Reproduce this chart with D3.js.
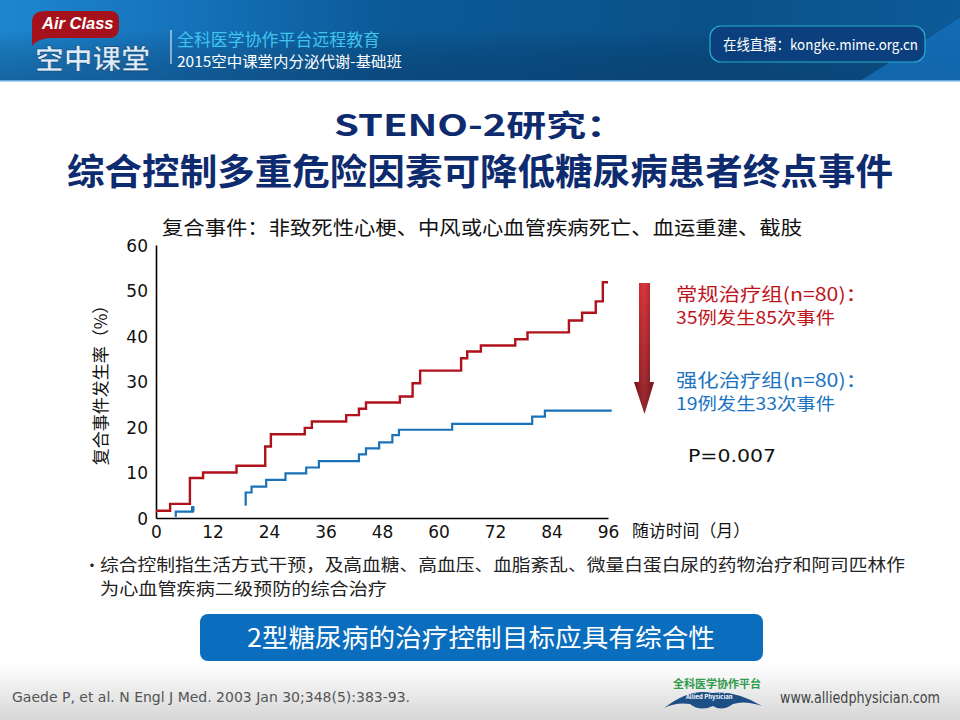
<!DOCTYPE html>
<html><head><meta charset="utf-8">
<script src="https://cdn.jsdelivr.net/npm/d3@7"></script>
<style>
html,body{margin:0;padding:0;background:#fff;}
svg{display:block;font-family:"Noto Sans CJK SC","Noto Sans",sans-serif;}
</style></head>
<body><svg id="c" width="960" height="720"></svg>
<script>
// ---------- data ----------
const yTicks = [0, 10, 20, 30, 40, 50, 60];
const xTicks = [0, 12, 24, 36, 48, 60, 72, 84, 96];
// conventional therapy: time (months) at which cumulative incidence (%) changes
const redTimes  = [0, 3.0, 7.2, 10.0, 17.1, 23.2, 24.4, 31.6, 33.1, 40.4, 43.1, 44.6, 51.8, 54.5, 56.1, 64.8, 66.1, 69.0, 76.3, 78.9, 87.7, 90.5, 93.4, 94.9, 96.0];
const redValues = [1.6, 3.1, 8.8, 10.0, 11.5, 15.7, 18.4, 19.8, 21.2, 22.6, 24.0, 25.4, 26.7, 29.6, 32.4, 35.1, 36.6, 37.9, 39.3, 40.8, 43.4, 45.1, 47.6, 51.8, 51.8];
// intensive therapy (two drawn pieces)
const blueEarlyTimes  = [4.2, 4.2, 7.8];
const blueEarlyValues = [0.2, 1.4, 2.6];
const blueTimes  = [19.05, 19.05, 20.3, 23.4, 27.5, 31.9, 34.6, 43.1, 44.6, 47.4, 50.2, 51.6, 62.9, 79.9, 82.6, 96.8];
const blueValues = [2.7, 5.6, 6.9, 8.4, 9.8, 11.1, 12.5, 14.0, 15.3, 16.6, 18.2, 19.4, 20.7, 22.3, 23.6, 23.6];

const titleLines = ["STENO-2研究：", "综合控制多重危险因素可降低糖尿病患者终点事件"];
const subTitle = "复合事件：非致死性心梗、中风或心血管疾病死亡、血运重建、截肢";
const yLabel = "复合事件发生率（%）";
const xLabel = "随访时间（月）";
const redLegend = ["常规治疗组(n=80)：", "35例发生85次事件"];
const blueLegend = ["强化治疗组(n=80)：", "19例发生33次事件"];
const pText = "P=0.007";
const bulletLines = ["综合控制指生活方式干预，及高血糖、高血压、血脂紊乱、微量白蛋白尿的药物治疗和阿司匹林作", "为心血管疾病二级预防的综合治疗"];
const buttonText = "2型糖尿病的治疗控制目标应具有综合性";
const refText = "Gaede P, et al. N Engl J Med. 2003 Jan 30;348(5):383-93.";

// ---------- drawing ----------
const svg = d3.select("#c");
const defs = svg.append("defs");

// header
const hg = defs.append("linearGradient").attr("id","hdr").attr("x1","0").attr("x2","1").attr("y1","0").attr("y2","0");
[["0%","#1d86cf"],["18%","#1674bd"],["40%","#0c5a98"],["75%","#0a5189"],["100%","#0d5a98"]].forEach(s=>hg.append("stop").attr("offset",s[0]).attr("stop-color",s[1]));
const hv = defs.append("linearGradient").attr("id","hdrv").attr("x1","0").attr("x2","0").attr("y1","0").attr("y2","1");
hv.append("stop").attr("offset","0%").attr("stop-color","#000").attr("stop-opacity",0);
hv.append("stop").attr("offset","100%").attr("stop-color","#0a2a50").attr("stop-opacity",0.35);
svg.append("rect").attr("x",0).attr("y",0).attr("width",960).attr("height",81).attr("fill","url(#hdr)");
svg.append("rect").attr("x",0).attr("y",30).attr("width",960).attr("height",51).attr("fill","url(#hdrv)");
svg.append("path").attr("d","M860,81 L960,18 L960,81 Z").attr("fill","#1672bd").attr("opacity",0.75);
svg.append("rect").attr("x",0).attr("y",80).attr("width",960).attr("height",1.5).attr("fill","#6aa9dc");

// logo
svg.append("path").attr("d","M32,42 L32,22 Q32,11 46,11 L110,11 Q119,11 119,20 L119,28 Q119,38 108,38 L52,38 Q38,38 32,46 Z").attr("fill","#a5121b");
svg.append("text").attr("x",42).attr("y",29).attr("fill","#fff").attr("font-size",16.5).attr("font-weight","bold").attr("font-style","italic")
  .attr("font-family","Liberation Sans, Arial, sans-serif").text("Air Class");
svg.append("text").attr("x",35).attr("y",69).attr("fill","#dcecfb").attr("stroke","#0b3d70").attr("stroke-width",0.6)
  .attr("font-size",27.5).attr("font-weight","bold").attr("textLength",115).attr("lengthAdjust","spacingAndGlyphs").text("空中课堂");
svg.append("line").attr("x1",171).attr("x2",171).attr("y1",30).attr("y2",64).attr("stroke","#cfe3f5").attr("stroke-width",1.2);
svg.append("text").attr("x",177).attr("y",46).attr("fill","#3fc4ee").attr("font-size",16.5).attr("textLength",203).attr("lengthAdjust","spacingAndGlyphs").text("全科医学协作平台远程教育");
svg.append("text").attr("x",177).attr("y",67).attr("fill","#ffffff").attr("font-size",15).attr("textLength",225).attr("lengthAdjust","spacingAndGlyphs").text("2015空中课堂内分泌代谢-基础班");
svg.append("rect").attr("x",710).attr("y",26).attr("width",215).attr("height",36).attr("rx",11)
  .attr("fill","#0b3f7e").attr("stroke","#27aecf").attr("stroke-width",1.2);
svg.append("text").attr("x",723).attr("y",50).attr("fill","#fff").attr("font-size",14.5).attr("textLength",195).attr("lengthAdjust","spacingAndGlyphs").text("在线直播：kongke.mime.org.cn");

// title
svg.append("text").attr("x",480).attr("y",136).attr("text-anchor","middle").attr("fill","#0d2b6e")
  .attr("font-size",30).attr("font-weight","bold").attr("textLength",292).attr("lengthAdjust","spacingAndGlyphs").text(titleLines[0]);
svg.append("text").attr("x",480).attr("y",185).attr("text-anchor","middle").attr("fill","#0d2b6e")
  .attr("font-size",36).attr("font-weight","bold").attr("textLength",826).attr("lengthAdjust","spacingAndGlyphs").text(titleLines[1]);

// chart
const x = d3.scaleLinear().domain([0, 96]).range([156, 608]);
const y = d3.scaleLinear().domain([0, 60]).range([518, 245]);

svg.append("text").attr("x",162).attr("y",235).attr("fill","#111").attr("font-size",19.5).attr("textLength",640).attr("lengthAdjust","spacingAndGlyphs").text(subTitle);

const gy = svg.append("g").attr("transform","translate(156,0)")
  .call(d3.axisLeft(y).tickValues(yTicks).tickSize(0).tickPadding(8));
const gx = svg.append("g").attr("transform","translate(0,518)")
  .call(d3.axisBottom(x).tickValues(xTicks).tickSize(0).tickPadding(8));
[gx, gy].forEach(g=>{
  g.select(".domain").attr("stroke","#000").attr("stroke-width",1.6);
  g.selectAll("text").attr("font-size",17).attr("fill","#111").attr("font-family","DejaVu Sans, Verdana, sans-serif");
});
gy.selectAll("text").attr("dy","0.36em");

svg.append("text").attr("transform","translate(107,381) rotate(-90)").attr("text-anchor","middle")
  .attr("fill","#111").attr("font-size",17).text(yLabel);
svg.append("text").attr("x",632).attr("y",537).attr("fill","#111").attr("font-size",17).attr("textLength",118).attr("lengthAdjust","spacingAndGlyphs").text(xLabel);

const line = d3.line().x(d=>x(d[0])).y(d=>y(d[1])).curve(d3.curveStepAfter);
const zip = (a,b)=>a.map((t,i)=>[t,b[i]]);
svg.append("path").attr("d",line(zip(redTimes,redValues))).attr("fill","none").attr("stroke","#b0121c").attr("stroke-width",2.4);
svg.append("path").attr("d",line(zip(blueEarlyTimes,blueEarlyValues))).attr("fill","none").attr("stroke","#1a72b8").attr("stroke-width",2.2);
svg.append("path").attr("d",line(zip(blueEarlyTimes.slice(2),blueEarlyValues.slice(2)).concat([[blueEarlyTimes[2],blueEarlyValues[1]]])))
  .attr("fill","none").attr("stroke","#1a72b8").attr("stroke-width",3.5);
svg.append("path").attr("d",line(zip(blueTimes,blueValues))).attr("fill","none").attr("stroke","#1a72b8").attr("stroke-width",2.2);

// arrow
const ag = defs.append("linearGradient").attr("id","arr").attr("x1","0").attr("x2","0").attr("y1","0").attr("y2","1");
ag.append("stop").attr("offset","0%").attr("stop-color","#d41a22");
ag.append("stop").attr("offset","100%").attr("stop-color","#7e0a10");
const ah = defs.append("linearGradient").attr("id","arrh").attr("x1","0").attr("x2","1").attr("y1","0").attr("y2","0");
ah.append("stop").attr("offset","0%").attr("stop-color","#000").attr("stop-opacity",0.15);
ah.append("stop").attr("offset","45%").attr("stop-color","#fff").attr("stop-opacity",0.12);
ah.append("stop").attr("offset","100%").attr("stop-color","#000").attr("stop-opacity",0.25);
const arrowPath = "M639,283 L650,283 L650,382 L654,382 L644.5,414 L634,382 L639,382 Z";
svg.append("path").attr("d",arrowPath).attr("fill","url(#arr)");
svg.append("path").attr("d",arrowPath).attr("fill","url(#arrh)");

// legend texts
svg.append("text").attr("x",676).attr("y",301).attr("fill","#c0141d").attr("font-size",18.5).attr("textLength",191).attr("lengthAdjust","spacingAndGlyphs").text(redLegend[0]);
svg.append("text").attr("x",676).attr("y",324).attr("fill","#c0141d").attr("font-size",17.5).attr("textLength",159).attr("lengthAdjust","spacingAndGlyphs").text(redLegend[1]);
svg.append("text").attr("x",676).attr("y",387).attr("fill","#1a74c2").attr("font-size",18.5).attr("textLength",191).attr("lengthAdjust","spacingAndGlyphs").text(blueLegend[0]);
svg.append("text").attr("x",676).attr("y",410).attr("fill","#1a74c2").attr("font-size",17.5).attr("textLength",159).attr("lengthAdjust","spacingAndGlyphs").text(blueLegend[1]);
svg.append("text").attr("x",688).attr("y",462).attr("fill","#111").attr("font-size",18.5).attr("textLength",88).attr("lengthAdjust","spacingAndGlyphs").attr("font-family","DejaVu Sans, Verdana, sans-serif").text(pText);

// bullet
svg.append("text").attr("x",84).attr("y",571).attr("fill","#222").attr("font-size",16).text("•");
svg.append("text").attr("x",100).attr("y",571).attr("fill","#222").attr("font-size",16.5).attr("textLength",805).attr("lengthAdjust","spacingAndGlyphs").text(bulletLines[0]);
svg.append("text").attr("x",100).attr("y",595).attr("fill","#222").attr("font-size",16.5).attr("textLength",287).attr("lengthAdjust","spacingAndGlyphs").text(bulletLines[1]);

// button
svg.append("rect").attr("x",200).attr("y",614).attr("width",563).attr("height",47).attr("rx",8).attr("fill","#0b6dbd");
svg.append("text").attr("x",481).attr("y",647).attr("text-anchor","middle").attr("fill","#fff").attr("font-size",25).attr("textLength",468).attr("lengthAdjust","spacingAndGlyphs").text(buttonText);

// footer
const fg = defs.append("linearGradient").attr("id","ftr").attr("x1","0").attr("x2","0").attr("y1","0").attr("y2","1");
fg.append("stop").attr("offset","0%").attr("stop-color","#ffffff");
fg.append("stop").attr("offset","100%").attr("stop-color","#d6d6d6");
svg.append("rect").attr("x",0).attr("y",664).attr("width",960).attr("height",56).attr("fill","url(#ftr)");
svg.append("text").attr("x",12).attr("y",702).attr("fill","#555").attr("font-size",13.5).attr("textLength",398).attr("lengthAdjust","spacingAndGlyphs").attr("font-family","DejaVu Sans Condensed, DejaVu Sans, sans-serif").text(refText);
svg.append("text").attr("x",673).attr("y",688).attr("fill","#2f9a4a").attr("font-size",11).attr("font-weight","bold").text("全科医学协作平台");
svg.append("path").attr("d","M664,708 Q690,688 712,693 Q735,690 762,706 Q745,700 733,704 Q722,712 713,706 Q700,712 690,704 Q676,702 664,708 Z").attr("fill","#1d4f86");
svg.append("text").attr("x",686).attr("y",699).attr("fill","#fff").attr("font-size",6).attr("font-weight","bold").text("Allied Physician");
svg.append("text").attr("x",780).attr("y",703).attr("fill","#444").attr("font-size",15).attr("textLength",160).attr("lengthAdjust","spacingAndGlyphs").attr("font-family","DejaVu Sans Condensed, DejaVu Sans, sans-serif").text("www.alliedphysician.com");
</script></body></html>
